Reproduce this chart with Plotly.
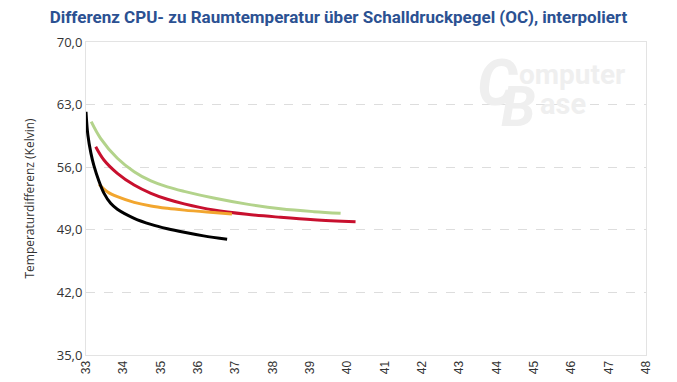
import plotly.graph_objects as go

# data
black_x = [33.0, 33.05, 33.13, 33.21, 33.35, 33.48, 33.66, 33.84, 34.29, 34.74, 35.18, 35.63, 36.15, 36.78]
black_y = [62.2, 59.6, 57.6, 56.2, 54.4, 53.1, 51.96, 51.3, 50.29, 49.61, 49.12, 48.72, 48.32, 47.94]

green_x = [33.14, 33.39, 33.84, 34.29, 34.74, 35.18, 35.63, 36.42, 37.31, 38.21, 39.1, 39.82]
green_y = [61.09, 59.23, 57.0, 55.5, 54.46, 53.8, 53.3, 52.55, 51.87, 51.35, 51.03, 50.85]

red_x = [33.26, 33.48, 33.84, 34.29, 34.74, 35.18, 35.63, 36.42, 37.31, 38.21, 39.1, 40.22]
red_y = [58.29, 56.81, 55.32, 54.01, 53.08, 52.41, 51.9, 51.21, 50.73, 50.4, 50.13, 49.91]

orange_x = [33.35, 33.57, 33.84, 34.29, 34.74, 35.18, 35.63, 36.24, 36.91]
orange_y = [54.09, 53.26, 52.7, 52.07, 51.66, 51.4, 51.2, 50.98, 50.77]

y_ticks = [35, 42, 49, 56, 63, 70]
y_ticktext = ["35,0", "42,0", "49,0", "56,0", "63,0", "70,0"]
x_ticks = list(range(33, 49))

title_text = "Differenz CPU- zu Raumtemperatur über Schalldruckpegel (OC), interpoliert"
y_title = "Temperaturdifferenz (Kelvin)"

fig = go.Figure()
series = [
    (green_x, green_y, "#b3d38b"),
    (red_x, red_y, "#c8102e"),
    (orange_x, orange_y, "#f2a62f"),
    (black_x, black_y, "#000000"),
]
for xs, ys, col in series:
    fig.add_trace(go.Scatter(x=xs, y=ys, mode="lines",
                             line=dict(color=col, width=3, shape="spline", smoothing=1),
                             showlegend=False, hoverinfo="skip"))

# watermark logo
wm = "#efefef"
fig.add_annotation(x=0.695, y=0.995, xref="paper", yref="paper", text="<b><i>C</i></b>",
                   showarrow=False, font=dict(family="Roboto", size=64, color=wm),
                   xanchor="left", yanchor="top")
fig.add_annotation(x=0.770, y=0.955, xref="paper", yref="paper", text="<b>omputer</b>",
                   showarrow=False, font=dict(family="Roboto", size=28, color=wm),
                   xanchor="left", yanchor="top")
fig.add_annotation(x=0.738, y=0.905, xref="paper", yref="paper", text="<b><i>B</i></b>",
                   showarrow=False, font=dict(family="Roboto", size=56, color=wm),
                   xanchor="left", yanchor="top")
fig.add_annotation(x=0.808, y=0.862, xref="paper", yref="paper", text="<b>ase</b>",
                   showarrow=False, font=dict(family="Roboto", size=29, color=wm),
                   xanchor="left", yanchor="top")

fig.update_layout(
    width=677, height=382,
    margin=dict(l=86, r=31, t=42, b=27),
    paper_bgcolor="white", plot_bgcolor="white",
    title=dict(text="<b>" + title_text + "</b>", x=0.5, xanchor="center", y=0.955, yanchor="middle",
               font=dict(family="Roboto", size=17, color="#2b5192")),
    xaxis=dict(range=[33, 48], tickvals=x_ticks, tickangle=-90,
               showgrid=False, zeroline=False, showline=True, linecolor="#e3e3e3",
               mirror=True, linewidth=1, ticks="", automargin=False,
               tickfont=dict(family="Liberation Sans", size=12, color="#333333")),
    yaxis=dict(range=[35, 70], tickvals=y_ticks, ticktext=y_ticktext,
               showgrid=True, gridcolor="#dddddd", griddash="dash", gridwidth=1,
               zeroline=False, showline=True, linecolor="#e3e3e3", mirror=True, linewidth=1,
               ticks="", automargin=False,
               tickfont=dict(family="Open Sans", size=13, color="#333333"),
               title=dict(text=y_title, font=dict(family="Open Sans", size=12, color="#333333"),
                          standoff=19)),
)

fig.write_html("out.html", config={"displayModeBar": False},
               post_script="document.body.style.margin='0';")
